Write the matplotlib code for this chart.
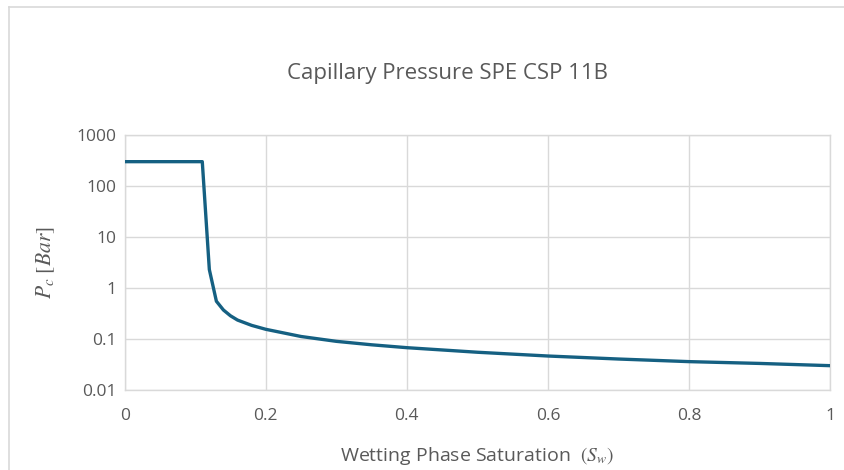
import matplotlib
matplotlib.use("Agg")
import matplotlib.pyplot as plt
from matplotlib.lines import Line2D
from matplotlib.ticker import FixedLocator, FixedFormatter, NullLocator

# Capillary pressure curve (wetting saturation vs. Pc in bar)
sw = [0.0, 0.11, 0.12, 0.13, 0.14, 0.15, 0.16, 0.18, 0.20, 0.25, 0.30,
      0.35, 0.40, 0.50, 0.60, 0.70, 0.80, 0.90, 1.00]
pc = [300, 300, 2.3, 0.55, 0.37, 0.285, 0.235, 0.185, 0.155, 0.112, 0.090,
      0.077, 0.0676, 0.055, 0.0464, 0.0405, 0.036, 0.0332, 0.030]

x_ticks = [0, 0.2, 0.4, 0.6, 0.8, 1.0]
x_tick_labels = ["0", "0.2", "0.4", "0.6", "0.8", "1"]
y_ticks = [0.01, 0.1, 1, 10, 100, 1000]
y_tick_labels = ["0.01", "0.1", "1", "10", "100", "1000"]

title = "Capillary Pressure SPE CSP 11B"
x_label = r"Wetting Phase Saturation  $(S_w)$"
y_label = r"$P_c\ [Bar]$"

plt.rcParams["font.family"] = ["Open Sans", "DejaVu Sans"]
plt.rcParams["mathtext.fontset"] = "stix"

text_color = "#595959"
grid_color = "#d9d9d9"
line_color = "#156082"

fig = plt.figure(figsize=(8.45, 4.70), dpi=100)
fig.patch.set_facecolor("white")

# chart frame (top and left edges)
fig.add_artist(Line2D([9 / 845, 9 / 845], [0, 1 - 7 / 470], transform=fig.transFigure,
                      color=grid_color, lw=1.2))
fig.add_artist(Line2D([9 / 845, 1], [1 - 7 / 470, 1 - 7 / 470], transform=fig.transFigure,
                      color=grid_color, lw=1.2))

ax = fig.add_axes([124.7 / 845, 1 - 390 / 470, (830 - 124.7) / 845, (390 - 135) / 470])
ax.plot(sw, pc, color=line_color, lw=2.4, solid_joinstyle="round", zorder=3)

ax.set_yscale("log")
ax.set_xlim(0, 1)
ax.set_ylim(0.01, 1000)

ax.xaxis.set_major_locator(FixedLocator(x_ticks))
ax.xaxis.set_major_formatter(FixedFormatter(x_tick_labels))
ax.yaxis.set_major_locator(FixedLocator(y_ticks))
ax.yaxis.set_major_formatter(FixedFormatter(y_tick_labels))
ax.yaxis.set_minor_locator(NullLocator())
ax.xaxis.set_minor_locator(NullLocator())

ax.grid(True, color=grid_color, lw=1.0)
ax.set_axisbelow(True)
for s in ax.spines.values():
    s.set_color(grid_color)
    s.set_linewidth(1.0)

ax.tick_params(axis="both", length=0, labelsize=12.5, labelcolor=text_color)
ax.tick_params(axis="x", pad=13)
ax.tick_params(axis="y", pad=6)

fig.text(448 / 845, 1 - 73 / 470, title, fontsize=16, color=text_color,
         ha="center", va="center")
ax.set_xlabel(x_label, fontsize=14, color=text_color, labelpad=15)
ax.set_ylabel(y_label, fontsize=15.5, color=text_color, labelpad=14)

fig.savefig("out.png", dpi=100, facecolor="white")
